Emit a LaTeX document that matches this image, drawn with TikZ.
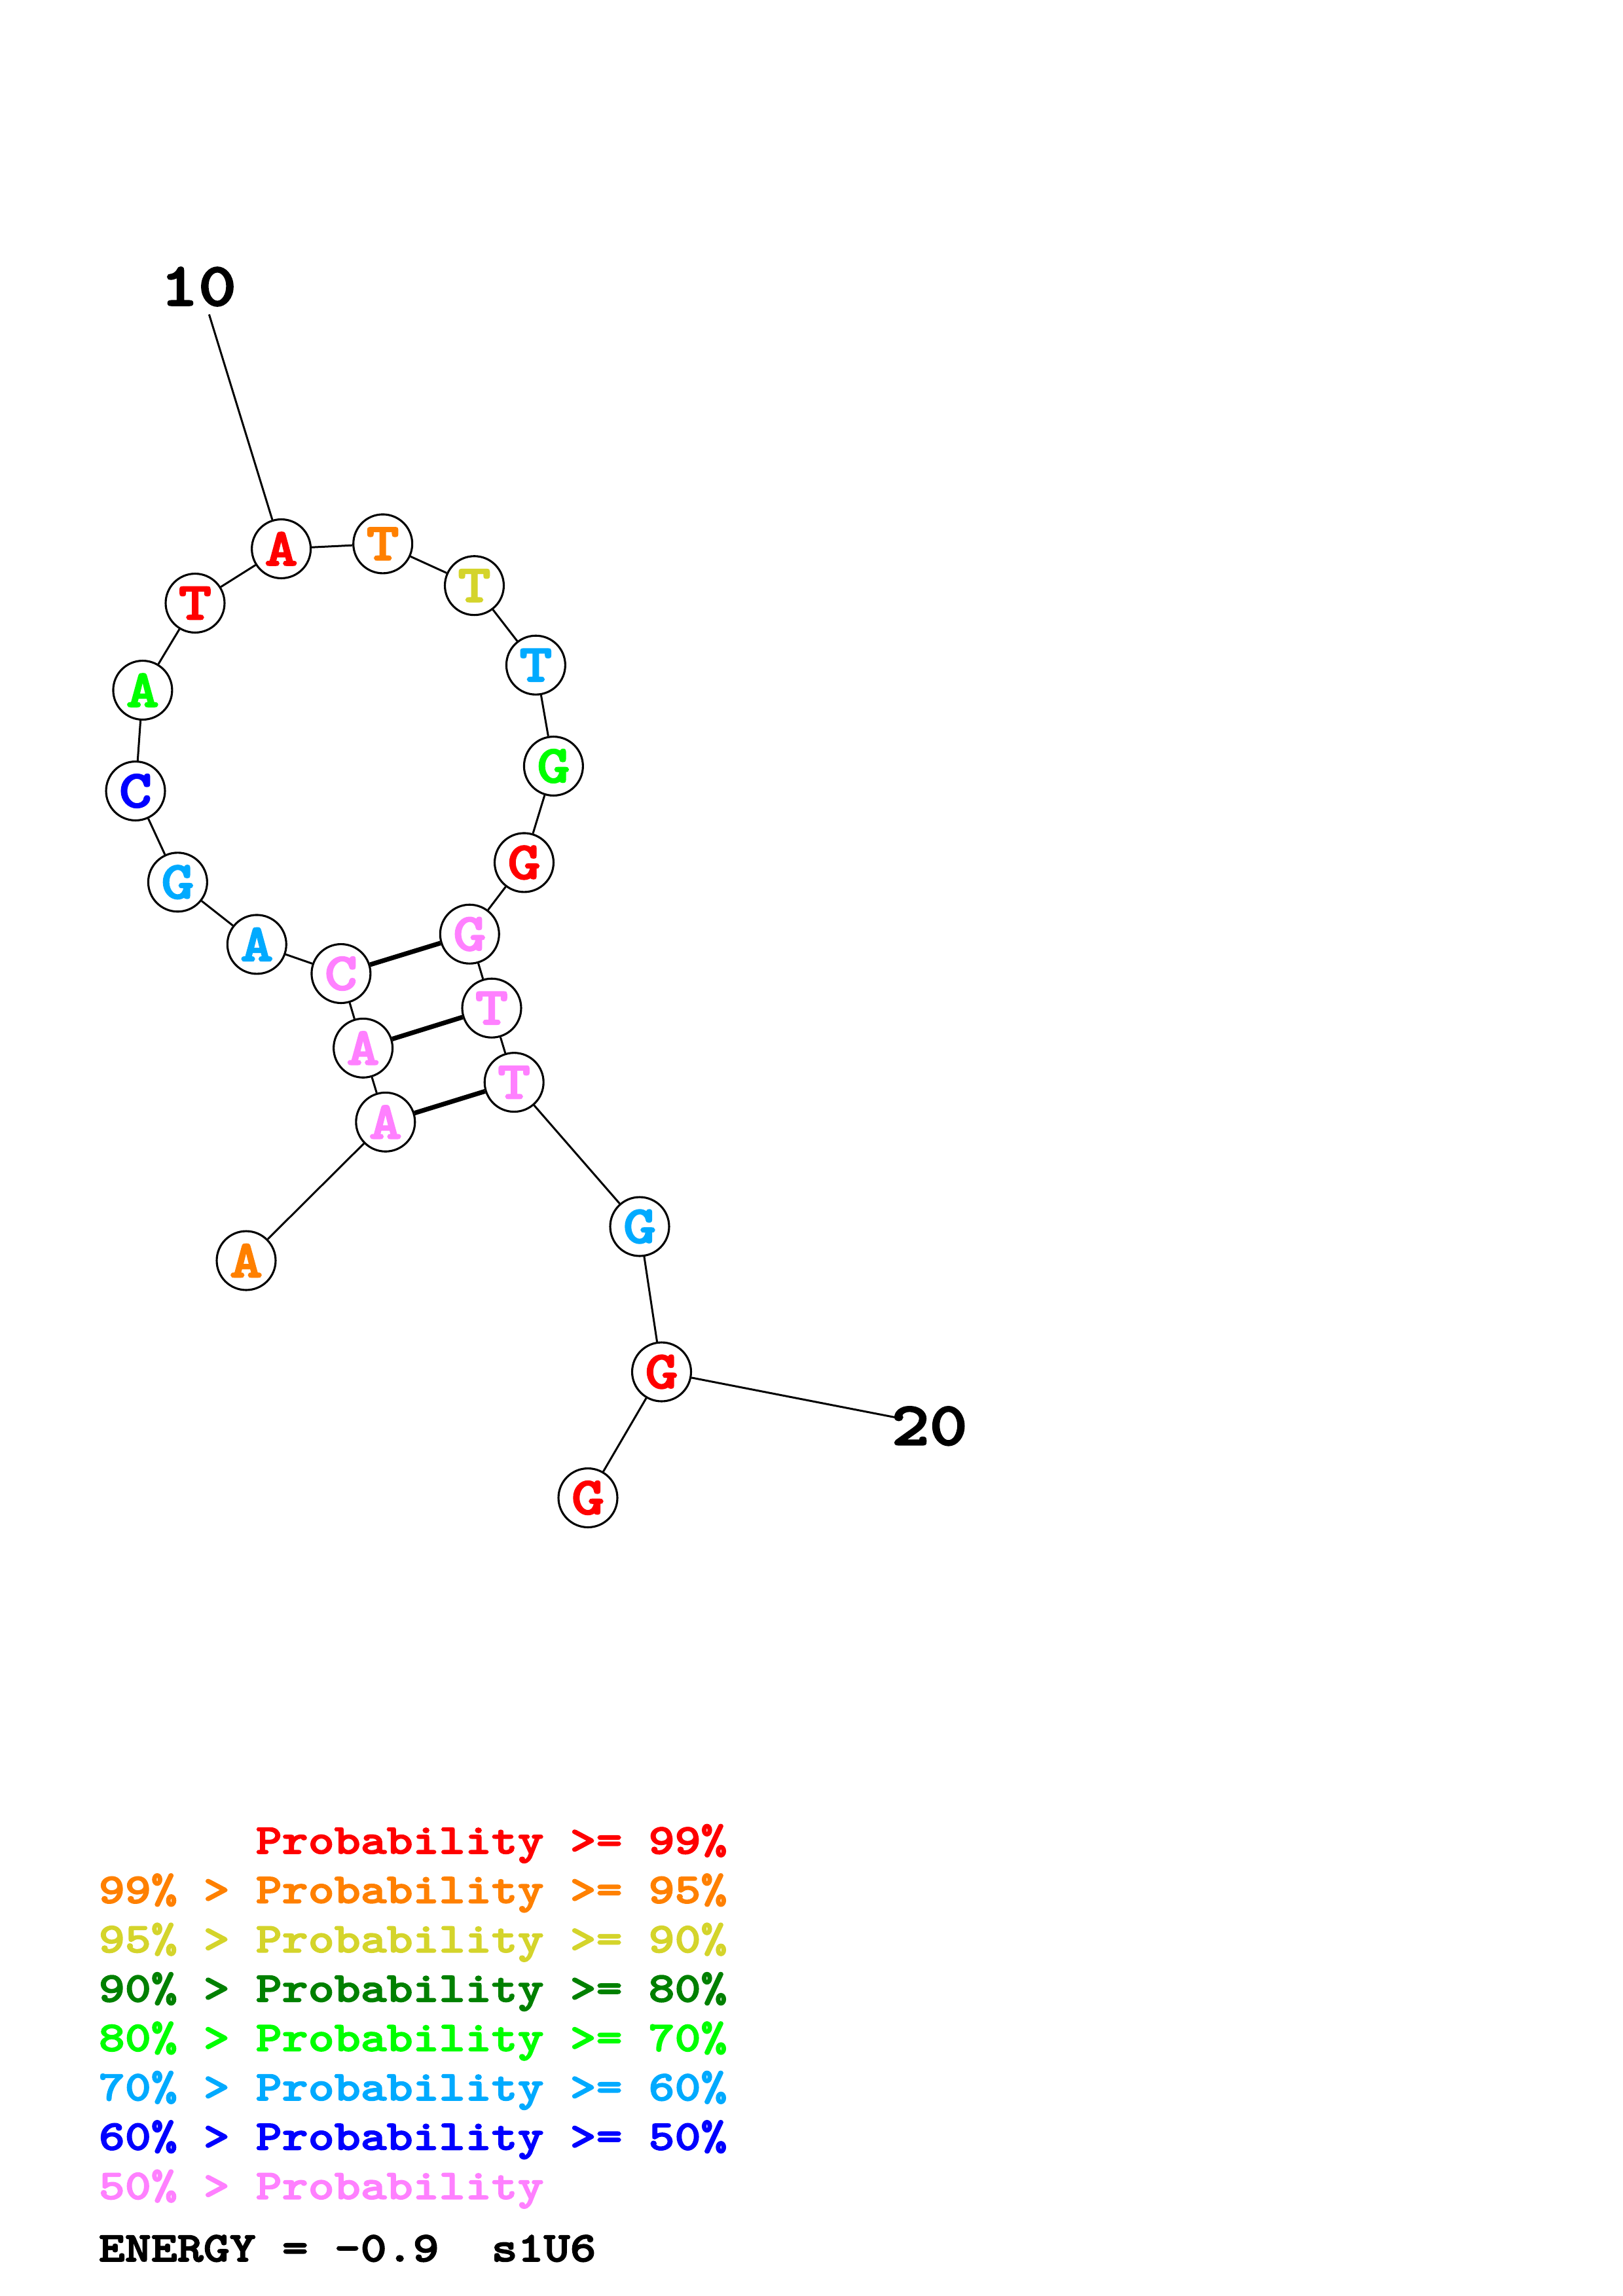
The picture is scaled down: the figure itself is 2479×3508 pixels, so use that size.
\documentclass[tikz,border=0pt]{standalone}
\usepackage{fontspec}
\newfontfamily\cf{lmmonolt10-bold}[Extension=.otf, FakeStretch=1.18, FakeBold=2.5]
\definecolor{cRed}{HTML}{FF0000}
\definecolor{cOrange}{HTML}{FF8000}
\definecolor{cYellow}{HTML}{D4D42B}
\definecolor{cDkGreen}{HTML}{008000}
\definecolor{cGreen}{HTML}{00FF00}
\definecolor{cLtBlue}{HTML}{00AAFF}
\definecolor{cBlue}{HTML}{0000FF}
\definecolor{cPink}{HTML}{FF80FF}
\tikzset{
  base/.style={circle, draw=black, fill=white, line width=0.75pt, minimum size=21.6pt, inner sep=0pt,
    font=\cf\fontsize{19.5}{19.5}\selectfont},
  backbone/.style={line width=0.72pt, draw=black},
  pairline/.style={line width=1.7pt, draw=black},
  numlabel/.style={font=\cf\fontsize{22.5}{22.5}\selectfont, inner sep=0pt},
  legend/.style={font=\cf\fontsize{15.5}{15.5}\selectfont, anchor=base west, inner sep=0pt}
}
\begin{document}
\begin{tikzpicture}[x=0.24013pt, y=-0.24013pt]
\useasboundingbox (0,0) rectangle (2479,3508);
% backbone nodes
\node[base, text=cOrange] (n1) at (376,1926) {A};
\node[base, text=cPink] (n2) at (588.8,1714.3) {A};
\node[base, text=cPink] (n3) at (554.6,1601.3) {A};
\node[base, text=cPink] (n4) at (520.9,1487.5) {C};
\node[base, text=cLtBlue] (n5) at (392.3,1442.9) {A};
\node[base, text=cLtBlue] (n6) at (271.4,1347.8) {G};
\node[base, text=cBlue] (n7) at (207,1208.5) {C};
\node[base, text=cGreen] (n8) at (217.9,1054.5) {A};
\node[base, text=cRed] (n9) at (298,921.5) {T};
\node[base, text=cRed] (n10) at (429.6,838.5) {A};
\node[base, text=cOrange] (n11) at (584.7,830.9) {T};
\node[base, text=cYellow] (n12) at (724.5,894.7) {T};
\node[base, text=cLtBlue] (n13) at (818.4,1016.2) {T};
\node[base, text=cGreen] (n14) at (845.4,1170.5) {G};
\node[base, text=cRed] (n15) at (800.5,1317.9) {G};
\node[base, text=cPink] (n16) at (717.3,1427.2) {G};
\node[base, text=cPink] (n17) at (751,1540.2) {T};
\node[base, text=cPink] (n18) at (785.2,1653.6) {T};
\node[base, text=cLtBlue] (n19) at (977,1874) {G};
\node[base, text=cRed] (n20) at (1010.5,2096) {G};
\node[base, text=cRed] (n21) at (898,2288.5) {G};
% number labels
\node[numlabel] (lab10) at (303,438) {10};
\node[numlabel] (lab20) at (1419.7,2178.8) {20};
\coordinate (lab10end) at (319.4,480.4);
\coordinate (lab20end) at (1367.6,2165.6);
% backbone connectors
\draw[backbone] (n1) -- (n2);
\draw[backbone] (n2) -- (n3);
\draw[backbone] (n3) -- (n4);
\draw[backbone] (n4) -- (n5);
\draw[backbone] (n5) -- (n6);
\draw[backbone] (n6) -- (n7);
\draw[backbone] (n7) -- (n8);
\draw[backbone] (n8) -- (n9);
\draw[backbone] (n9) -- (n10);
\draw[backbone] (n10) -- (n11);
\draw[backbone] (n11) -- (n12);
\draw[backbone] (n12) -- (n13);
\draw[backbone] (n13) -- (n14);
\draw[backbone] (n14) -- (n15);
\draw[backbone] (n15) -- (n16);
\draw[backbone] (n16) -- (n17);
\draw[backbone] (n17) -- (n18);
\draw[backbone] (n18) -- (n19);
\draw[backbone] (n19) -- (n20);
\draw[backbone] (n20) -- (n21);
\draw[backbone] (lab10end) -- (n10);
\draw[backbone] (n20) -- (lab20end);
% base pairs
\draw[pairline] (n4) -- (n16);
\draw[pairline] (n3) -- (n17);
\draw[pairline] (n2) -- (n18);
% legend
\node[legend, text=cRed] (lg1) at (150,2832) {\phantom{99\%\ >\ }Probability >= 99\%};
\node[legend, text=cOrange] (lg2) at (150,2907.4) {99\% > Probability >= 95\%};
\node[legend, text=cYellow] (lg3) at (150,2982.8) {95\% > Probability >= 90\%};
\node[legend, text=cDkGreen] (lg4) at (150,3058.2) {90\% > Probability >= 80\%};
\node[legend, text=cGreen] (lg5) at (150,3133.6) {80\% > Probability >= 70\%};
\node[legend, text=cLtBlue] (lg6) at (150,3209) {70\% > Probability >= 60\%};
\node[legend, text=cBlue] (lg7) at (150,3284.4) {60\% > Probability >= 50\%};
\node[legend, text=cPink] (lg8) at (150,3359.8) {50\% > Probability};
\node[legend, text=black] (energy) at (150,3455) {ENERGY = -0.9\ \ s1U6};
\end{tikzpicture}
\end{document}
